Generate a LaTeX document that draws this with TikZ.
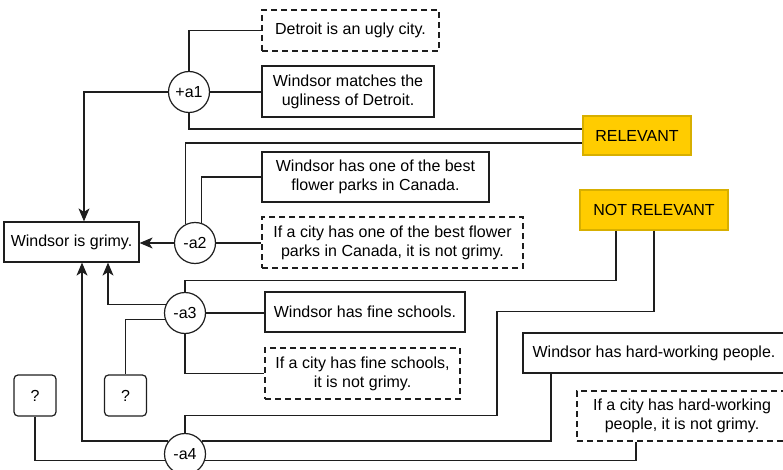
\documentclass[tikz,border=0pt]{standalone}
\usepackage{fontspec}
\setmainfont{Liberation Sans}
\usetikzlibrary{arrows.meta,shapes.geometric}
\definecolor{ink}{RGB}{30, 30, 30}
\definecolor{gold}{RGB}{255, 204, 0}
\definecolor{goldline}{RGB}{215, 175, 0}
\tikzstyle{link} = [
    line width=1.2pt,
    draw=ink
]
\tikzstyle{arrow} = [
    link,
    -{Stealth[length=13pt,width=11pt,inset=3.5pt]}
]
\tikzstyle{claim} = [
    rectangle,
    draw=ink,
    line width=1.2pt,
    fill=white,
    inner sep=0pt,
    align=center,
    font=\fontsize{16}{19}\selectfont
]
\tikzstyle{warrant} = [
    claim,
    dash pattern=on 6pt off 4pt
]
\tikzstyle{verdict} = [
    claim,
    draw=goldline,
    fill=gold
]
\tikzstyle{unknown} = [
    claim,
    rounded corners=4pt,
    minimum width=42pt,
    minimum height=41pt
]
\tikzstyle{argcircle} = [
    circle,
    draw=ink,
    line width=1.2pt,
    fill=white,
    inner sep=0pt,
    minimum size=41pt,
    font=\fontsize{16}{19}\selectfont
]

\begin{document}
\begin{tikzpicture}[x=1pt,y=-1pt]
    \useasboundingbox (0,0) rectangle (783,470);
    \clip (0,0) rectangle (783,470);

    % Conclusion
    \node[claim, minimum width=135pt, minimum height=40pt] (grimy) at (71.5,242) {Windsor is grimy.};

    % Premises
    \node[warrant, minimum width=177pt, minimum height=41pt] (detroit) at (350.5,30.5) {Detroit is an ugly city.};
    \node[claim, minimum width=172pt, minimum height=51pt] (matches) at (348,91.5) {Windsor matches the\\ugliness of Detroit.};
    \node[claim, minimum width=227pt, minimum height=50pt] (parks) at (375.5,177) {Windsor has one of the best\\flower parks in Canada.};
    \node[warrant, minimum width=261pt, minimum height=51pt] (parksrule) at (392.5,242.5) {If a city has one of the best flower\\parks in Canada, it is not grimy.};
    \node[claim, minimum width=200pt, minimum height=40pt] (schools) at (365,312) {Windsor has fine schools.};
    \node[warrant, minimum width=195pt, minimum height=51pt] (schoolsrule) at (362.5,373.5) {If a city has fine schools,\\it is not grimy.};
    \node[claim, minimum width=262pt, minimum height=40pt] (hardwork) at (654,353) {Windsor has hard-working people.};
    \node[warrant, minimum width=210pt, minimum height=50pt] (hardrule) at (682,416) {If a city has hard-working\\people, it is not grimy.};
    \node[unknown] (q1) at (35,395.5) {?};
    \node[unknown] (q2) at (125.5,395.5) {?};

    % Verdicts
    \node[verdict, minimum width=108pt, minimum height=39pt] (relevant) at (637,135.5) {RELEVANT};
    \node[verdict, minimum width=148pt, minimum height=40pt] (notrel) at (654,210) {NOT RELEVANT};

    % Arguments
    \node[argcircle] (a1) at (189,92) {+a1};
    \node[argcircle] (a2) at (195,243) {-a2};
    \node[argcircle] (a3) at (185,313) {-a3};
    \node[argcircle] (a4) at (185,454) {-a4};

    % Links of a1
    \draw[link] (a1.north) |- (detroit.west);
    \draw[link] (a1.east) -- (a1.east -| matches.west);
    \draw[link] (a1.south) |- ([yshift=6.5pt]relevant.west);
    \draw[arrow] (a1.west) -| ([xshift=12.5pt]grimy.north);

    % Links of a2
    \draw[link] ([yshift=-7.5pt]relevant.west) -| (a2.117);
    \draw[link] (parks.west) -| (a2.72);
    \draw[link] (a2.east) -- (a2.east -| parksrule.west);
    \draw[arrow] (a2.west) -- (a2.west -| grimy.east);

    % Links of a3
    \draw[link] ([xshift=-38pt]notrel.south) -- ++(0,50) -| (a3.north);
    \draw[link] (a3.east) -- (a3.east -| schools.west);
    \draw[link] (a3.south) |- (schoolsrule.west);
    \draw[arrow] (a3.156) -| ([xshift=36.5pt]grimy.south);
    \draw[link] (a3.197) -| (q2.north);

    % Links of a4
    \draw[link] (notrel.south) -- ++(0,81) -- ++(-157,0) -- ++(0,104) -| (a4.north);
    \draw[link] (q1.south) |- (a4.197);
    \draw[arrow] (a4.142) -| ([xshift=10.5pt]grimy.south);
    \draw[link] (a4.38) -| ([xshift=-103pt]hardwork.south);
    \draw[link] (a4.-17) -| ([xshift=-46pt]hardrule.south);
\end{tikzpicture}
\end{document}
